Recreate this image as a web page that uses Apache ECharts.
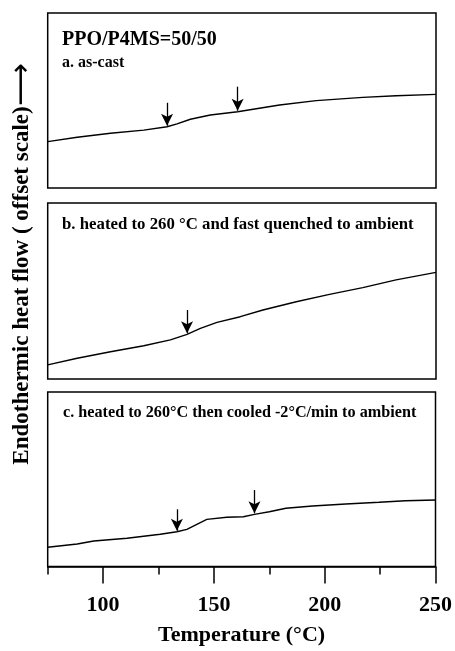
<!DOCTYPE html>
<html><head><meta charset="utf-8">
<script src="https://cdn.jsdelivr.net/npm/echarts@6/dist/echarts.min.js"></script>
<style>html,body{margin:0;padding:0;background:#fff}#c{width:455px;height:651px}</style>
</head><body><div id="c"></div>
<script>
// Panel a: as-cast
const tempA = [75, 88.3, 103.3, 118.3, 128.8, 133.3, 139.3, 148.3, 160.6, 179.5, 196.0, 217.0, 232.0, 250];
const flowA = [26.5, 29.0, 31.3, 33.1, 35.0, 36.6, 39.3, 41.7, 43.6, 47.4, 49.9, 51.8, 52.7, 53.5];
// Panel b: quenched
const tempB = [75, 88.3, 103.3, 118.3, 130.3, 137.8, 143.8, 151.3, 161.8, 172.0, 187.0, 202.0, 217.0, 232.0, 250];
const flowB = [8.0, 11.8, 15.5, 18.9, 22.2, 25.4, 28.8, 32.2, 35.4, 39.2, 43.9, 48.1, 51.9, 56.3, 60.6];
// Panel c: slow cooled
const tempC = [75, 88.3, 95.8, 110.8, 125.8, 133.3, 137.8, 142.3, 146.8, 155.8, 163.3, 168.3, 175.0, 182.5, 194.5, 209.5, 224.5, 236.5, 250];
const flowC = [11.0, 12.9, 14.6, 16.2, 18.5, 19.9, 21.3, 24.2, 27.0, 28.2, 28.5, 29.9, 31.4, 33.4, 34.7, 35.8, 36.8, 37.7, 38.1];
// Arrows: [temperature, start value, tip value]
const arrowsA = [[128.8, 48.7, 35.6], [160.6, 57.9, 44.2]];
const arrowsB = [[137.8, 39.2, 26.0]];
const arrowsC = [[133.3, 32.8, 20.5], [168.3, 43.8, 30.5]];
// Axis ticks
const majorTicks = [100, 150, 200, 250];
const minorTicks = [75, 125, 175, 225];
const panelLabels = ['a. as-cast', 'b. heated to 260 \u00b0C and fast quenched to ambient', 'c. heated to 260\u00b0C then cooled -2\u00b0C/min to ambient'];

const FF = '"Liberation Serif", "Times New Roman", serif';
const chart = echarts.init(document.getElementById('c'), null, {renderer: 'canvas'});

const grids = [
  {left: 47.7, right: 19, top: 13, height: 175},
  {left: 47.7, right: 19, top: 203, height: 176},
  {left: 47.7, right: 19, top: 392, height: 174.5}
].map(g => Object.assign(g, {show: true, borderColor: '#000', borderWidth: 1.5, backgroundColor: 'transparent'}));

function pairs(xs, ys) { return xs.map((x, i) => [x, ys[i]]); }
function arrowLines(arr) {
  return arr.map(a => [{coord: [a[0], a[1]]}, {coord: [a[0], a[2]]}]);
}
function series(i, xs, ys, arr) {
  return {
    type: 'line', xAxisIndex: i, yAxisIndex: i, data: pairs(xs, ys),
    showSymbol: false, smooth: false,
    lineStyle: {color: '#000', width: 1.4}, silent: true,
    markLine: {
      silent: true, symbol: ['none', 'arrow'], symbolSize: [9, 12],
      label: {show: false},
      lineStyle: {color: '#000', width: 1.3, type: 'solid'},
      data: arrowLines(arr), animation: false
    }
  };
}

const hiddenX = i => ({gridIndex: i, type: 'value', min: 75, max: 250, show: false});
const xAxes = [hiddenX(0), hiddenX(1),
  {gridIndex: 2, type: 'value', min: 75, max: 250, position: 'bottom',
   axisLine: {show: true, lineStyle: {color: '#000', width: 1.5}},
   axisTick: {show: true, customValues: majorTicks, length: 17, lineStyle: {color: '#000', width: 1.5}},
   axisLabel: {customValues: majorTicks, margin: 28, color: '#000', fontSize: 22, fontWeight: 'bold', fontFamily: FF},
   splitLine: {show: false},
   name: 'Temperature (\u00b0C)', nameLocation: 'middle', nameGap: 58,
   nameTextStyle: {color: '#000', fontSize: 22, fontWeight: 'bold', fontFamily: FF}},
  {gridIndex: 2, type: 'value', min: 75, max: 250, position: 'bottom',
   axisLine: {show: false},
   axisTick: {show: true, customValues: minorTicks, length: 8, lineStyle: {color: '#000', width: 1.5}},
   axisLabel: {show: false}, splitLine: {show: false}}
];
const yAxes = [0, 1, 2].map(i => ({gridIndex: i, type: 'value', min: 0, max: 100, show: false}));

function txt(x, y, text, size) {
  return {type: 'text', x: x, y: y, silent: true,
    style: {text: text, fill: '#000', font: 'bold ' + size + 'px ' + FF, align: 'left', verticalAlign: 'middle', textAlign: 'left', textVerticalAlign: 'middle'}};
}

chart.setOption({
  animation: false,
  grid: grids,
  xAxis: xAxes,
  yAxis: yAxes,
  series: [series(0, tempA, flowA, arrowsA), series(1, tempB, flowB, arrowsB), series(2, tempC, flowC, arrowsC)],
  graphic: [
    txt(62, 40, 'PPO/P4MS=50/50', 20),
    txt(62, 63, panelLabels[0], 16),
    txt(62, 225, panelLabels[1], 16.8),
    txt(63, 413, panelLabels[2], 16.2),
    {type: 'text', x: 22, y: 264, rotation: Math.PI / 2, silent: true,
     style: {text: '{t|Endothermic heat flow ( offset scale)}{a|\u27f6}',
       align: 'center', verticalAlign: 'middle', textAlign: 'center', textVerticalAlign: 'middle',
       rich: {t: {fill: '#000', fontSize: 23, fontWeight: 'bold', fontFamily: FF},
              a: {fill: '#000', fontSize: 30, fontFamily: '"DejaVu Sans"'}}}}
  ]
});
</script></body></html>
